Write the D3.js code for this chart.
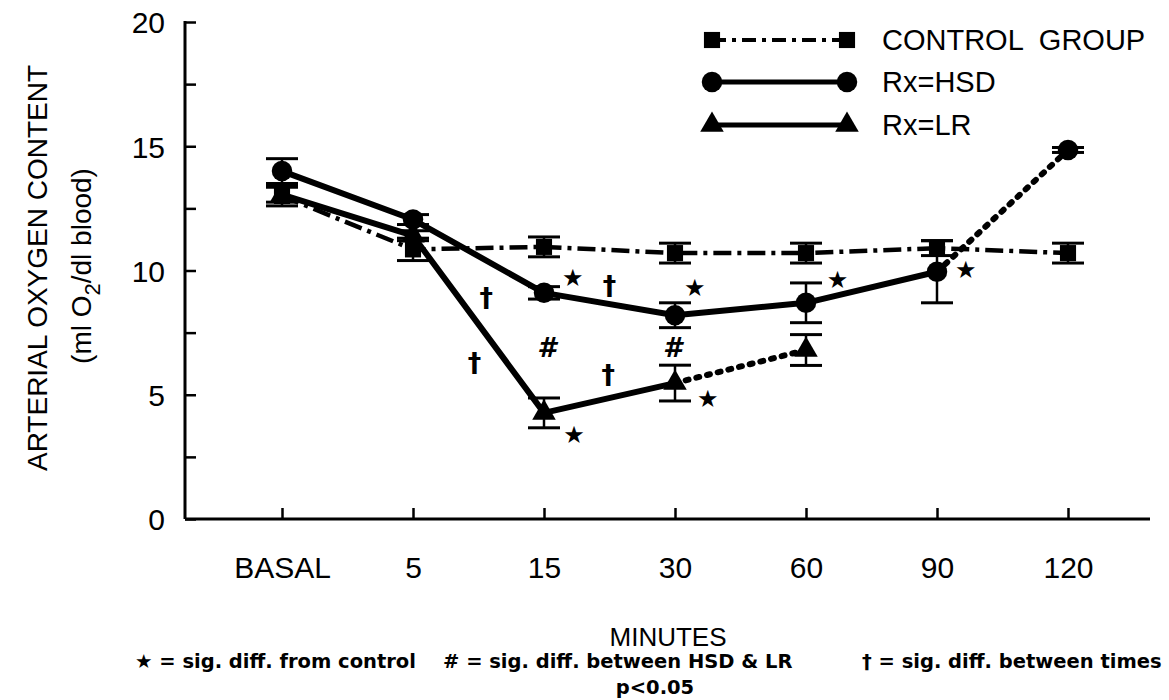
<!DOCTYPE html>
<html lang="en">
<head>
<meta charset="utf-8">
<title>Arterial oxygen content</title>
<style>
  body { margin: 0; background: #fff; }
  svg { display: block; }
  .axis text { font-family: "Liberation Sans", Arial, sans-serif; font-size: 30px; fill: #000; }
  .axis line { stroke: #000; stroke-width: 2.5px; }
  .lbl { font-family: "Liberation Sans", Arial, sans-serif; fill: #000; }
  .note { font-family: "DejaVu Sans", sans-serif; font-size: 19.5px; font-weight: bold; fill: #000; }
</style>
<script src="https://cdn.jsdelivr.net/npm/d3@7/dist/d3.min.js"></script>
</head>
<body>
<script>
// time points
var categories = ["BASAL", "5", "15", "30", "60", "90", "120"];
var seriesNames = ["CONTROL  GROUP", "Rx=HSD", "Rx=LR"];

// mean +/- error, ml O2/dl blood
var controlMean = [13.0, 10.85, 10.95, 10.7, 10.7, 10.9, 10.7];
var controlErr  = [0.4, 0.45, 0.4, 0.4, 0.4, 0.3, 0.4];
var hsdMean = [14.0, 12.05, 9.1, 8.2, 8.7, 9.95, 14.85];
var hsdErr  = [0.5, 0.2, 0.25, 0.5, 0.8, 1.25, 0.1];
var lrMean = [13.05, 11.4, 4.27, 5.47, 6.8];
var lrErr  = [0.3, 0.2, 0.6, 0.72, 0.62];

// last point joined with a solid line, after that dotted
var hsdSolidTo = "90";
var lrSolidTo = "30";

var yTicks = [0, 2.5, 5, 7.5, 10, 12.5, 15, 17.5, 20];

// significance marks: [symbol, position between time points (0 = BASAL), value]
var marks = [
  ["\u2605", 2.22, 9.7], ["\u2020", 2.5, 9.4], ["\u2020", 1.56, 8.9],
  ["\u2020", 1.47, 6.3], ["#", 2.02, 6.9], ["\u2020", 2.49, 5.8],
  ["\u2605", 2.23, 3.4], ["#", 2.98, 6.9], ["\u2605", 3.15, 9.3],
  ["\u2605", 3.25, 4.85], ["\u2605", 4.24, 9.65], ["\u2605", 5.22, 10.05]
];

var footNotes = ["\u2605 = sig. diff. from control", "# = sig. diff. between HSD & LR", "\u2020 = sig. diff. between times"];

var width = 1169, height = 700;
var plotLeft = 185, plotRight = 1150, plotTop = 22, plotBottom = 519;

var svg = d3.select("body").append("svg")
  .attr("width", width)
  .attr("height", height);

var x = d3.scalePoint().domain(categories).range([282, 1068]);
var y = d3.scaleLinear().domain([0, 20]).range([plotBottom, plotTop]);
function xAt(i) { return x(categories[0]) + i * x.step(); }

// axes
var yAxis = svg.append("g").attr("class", "axis")
  .attr("transform", "translate(" + plotLeft + ",0)")
  .call(d3.axisLeft(y).tickValues(yTicks).tickSize(-11).tickSizeOuter(0).tickPadding(20)
    .tickFormat(function(d){ return d % 5 == 0 ? d : ""; }));
yAxis.select(".domain").remove();
yAxis.selectAll("text").attr("dy", "0.36em");

var xAxis = svg.append("g").attr("class", "axis")
  .attr("transform", "translate(0," + plotBottom + ")")
  .call(d3.axisBottom(x).tickSize(-11).tickSizeOuter(0).tickPadding(38));
xAxis.select(".domain").remove();

svg.append("line").attr("x1", plotLeft).attr("x2", plotLeft).attr("y1", plotTop - 1).attr("y2", plotBottom)
  .attr("stroke", "#000").attr("stroke-width", 3);
svg.append("line").attr("x1", plotLeft).attr("x2", plotRight).attr("y1", plotBottom).attr("y2", plotBottom)
  .attr("stroke", "#000").attr("stroke-width", 3);

// axis titles
svg.append("text").attr("class", "lbl")
  .attr("transform", "translate(47,268) rotate(-90)")
  .attr("text-anchor", "middle").style("font-size", "28px")
  .text("ARTERIAL OXYGEN CONTENT");
var sub = svg.append("text").attr("class", "lbl")
  .attr("transform", "translate(91,266) rotate(-90)")
  .attr("text-anchor", "middle").style("font-size", "28px");
sub.append("tspan").text("(ml O");
sub.append("tspan").attr("dy", 9).style("font-size", "22px").text("2");
sub.append("tspan").attr("dy", -9).text("/dl blood)");

svg.append("text").attr("class", "lbl")
  .attr("x", 668).attr("y", 646).attr("text-anchor", "middle")
  .style("font-size", "26px").text("MINUTES");

var noteX = [135, 443, 862];
svg.selectAll(".foot").data(footNotes).enter().append("text")
  .attr("class", "note foot")
  .attr("x", function(d, i){ return noteX[i]; })
  .attr("y", 668)
  .text(function(d){ return d; });
svg.append("text").attr("class", "note")
  .attr("x", 655).attr("y", 694).attr("text-anchor", "middle")
  .text("p<0.05");

// data lines
function pts(mean) {
  return mean.map(function(v, i){ return [x(categories[i]), y(v)]; });
}
var line = d3.line();

function drawSeries(mean, solidTo, dash, w) {
  var p = pts(mean);
  var k = solidTo ? categories.indexOf(solidTo) : p.length - 1;
  svg.append("path").attr("d", line(p.slice(0, k + 1)))
    .attr("fill", "none").attr("stroke", "#000")
    .attr("stroke-width", w).attr("stroke-dasharray", dash)
    .attr("stroke-linejoin", "round");
  if (k < p.length - 1) {
    svg.append("path").attr("d", line(p.slice(k)))
      .attr("fill", "none").attr("stroke", "#000")
      .attr("stroke-width", 6).attr("stroke-dasharray", "3 8")
      .attr("stroke-linecap", "round");
  }
}
drawSeries(controlMean, null, "18 6 4 6", 4.5);
drawSeries(lrMean, lrSolidTo, null, 6);
drawSeries(hsdMean, hsdSolidTo, null, 6);

function errBars(mean, err) {
  var g = svg.append("g").attr("stroke", "#000");
  mean.forEach(function(v, i){
    var cx = x(categories[i]);
    g.append("line").attr("x1", cx).attr("x2", cx)
      .attr("y1", y(v - err[i])).attr("y2", y(v + err[i])).attr("stroke-width", 2.5);
    [v - err[i], v + err[i]].forEach(function(e){
      g.append("line").attr("x1", cx - 16).attr("x2", cx + 16)
        .attr("y1", y(e)).attr("y2", y(e)).attr("stroke-width", 3);
    });
  });
}
errBars(controlMean, controlErr);
errBars(hsdMean, hsdErr);
errBars(lrMean, lrErr);

var square = d3.symbol().type(d3.symbolSquare).size(260);
var circle = d3.symbol().type(d3.symbolCircle).size(330);
var tri = d3.symbol().type(d3.symbolTriangle).size(240);

function markers(mean, sym) {
  svg.append("g").selectAll("path").data(mean).enter().append("path")
    .attr("d", sym)
    .attr("transform", function(d, i){ return "translate(" + x(categories[i]) + "," + y(d) + ")"; })
    .attr("fill", "#000");
}
markers(controlMean, square);
markers(lrMean, tri);
markers(hsdMean, circle);

// significance marks
svg.selectAll(".mark").data(marks).enter().append("text")
  .attr("class", "mark")
  .attr("x", function(d){ return xAt(d[1]); })
  .attr("y", function(d){ return y(d[2]); })
  .attr("text-anchor", "middle")
  .attr("dy", "0.35em")
  .style("font-family", "'DejaVu Sans', sans-serif")
  .style("font-weight", "bold")
  .style("font-style", function(d){ return d[0] == "#" ? "italic" : "normal"; })
  .style("font-size", function(d){ return d[0] == "\u2605" ? "24px" : "27px"; })
  .text(function(d){ return d[0]; });

// legend
var legRows = [40, 82, 125];
var legSyms = [square, circle, tri];
var legDash = ["14 6 4 6", null, null];
var leg = svg.append("g");
seriesNames.forEach(function(name, i){
  var g = leg.append("g").attr("transform", "translate(0," + legRows[i] + ")");
  g.append("line").attr("x1", 712).attr("x2", 847).attr("stroke", "#000")
    .attr("stroke-width", i == 0 ? 4 : 5).attr("stroke-dasharray", legDash[i]);
  [712, 847].forEach(function(px){
    g.append("path").attr("d", legSyms[i]).attr("transform", "translate(" + px + ",0)");
  });
  g.append("text").attr("class", "lbl").attr("x", 882).attr("y", 0).attr("dy", "0.36em")
    .style("font-size", "29px").style("white-space", "pre")
    .text(name);
});
</script>
</body>
</html>
